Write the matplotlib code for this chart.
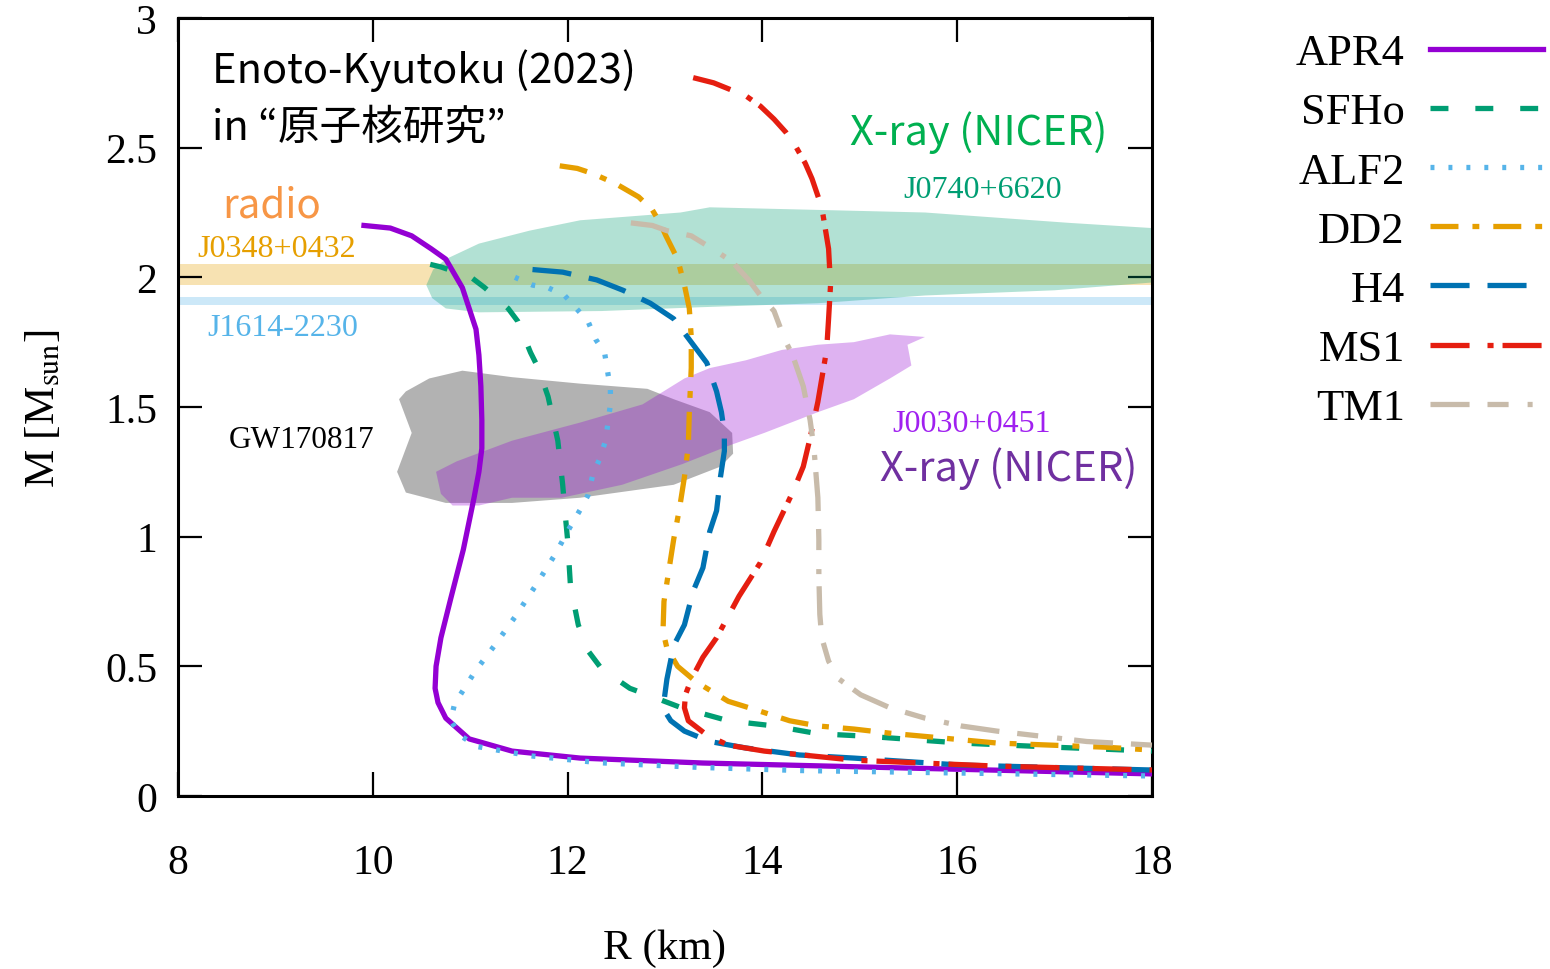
import numpy as np
import matplotlib
matplotlib.use("Agg")
import matplotlib.pyplot as plt

plt.rcParams['font.family'] = ['Liberation Serif', 'DejaVu Serif']
plt.rcParams['mathtext.fontset'] = 'stix'

# mass-radius curves (R in km, M in solar masses)
apr4_R = [9.91, 10.18, 10.40, 10.60, 10.75, 10.92, 11.06, 11.09, 11.11, 11.12, 11.12, 11.09, 11.04, 10.93,
          10.80, 10.70, 10.65, 10.64, 10.67, 10.75, 10.99, 11.43, 12.13, 13.39, 15.45, 18.0]
apr4_M = [2.20, 2.19, 2.16, 2.11, 2.07, 1.96, 1.80, 1.70, 1.58, 1.45, 1.34, 1.25, 1.15, 0.95,
          0.76, 0.61, 0.50, 0.415, 0.36, 0.30, 0.22, 0.173, 0.146, 0.127, 0.108, 0.085]

sfho_R = [10.59, 10.70, 11.01, 11.15, 11.39, 11.49, 11.62, 11.70, 11.80, 11.90, 11.95, 11.98, 12.00, 12.03,
          12.11, 12.21, 12.35, 12.64, 12.82, 13.17, 13.65, 14.12, 14.57, 15.08, 16.04, 17.0, 18.0]
sfho_M = [2.05, 2.04, 2.00, 1.96, 1.88, 1.83, 1.71, 1.65, 1.54, 1.37, 1.20, 1.07, 0.99, 0.81,
          0.66, 0.56, 0.49, 0.415, 0.39, 0.34, 0.29, 0.27, 0.24, 0.23, 0.204, 0.188, 0.173]

alf2_R = [11.46, 11.64, 11.80, 11.97, 12.09, 12.21, 12.29, 12.38, 12.41, 12.44, 12.44, 12.39, 12.33, 12.26,
          12.21, 12.14, 12.03, 11.87, 11.67, 11.46, 11.25, 11.05, 10.84, 10.80, 10.91, 11.08, 11.61, 12.33,
          13.36, 14.39, 16.44, 18.0]
alf2_M = [2.00, 1.97, 1.96, 1.93, 1.88, 1.83, 1.76, 1.71, 1.64, 1.57, 1.51, 1.37, 1.30, 1.24,
          1.16, 1.11, 1.04, 0.93, 0.81, 0.69, 0.58, 0.48, 0.355, 0.29, 0.23, 0.19, 0.155, 0.128,
          0.110, 0.098, 0.086, 0.077]

dd2_R = [11.92, 12.10, 12.26, 12.50, 12.73, 12.87, 12.95, 13.01, 13.13, 13.20, 13.25, 13.27, 13.27, 13.25,
         13.24, 13.20, 13.15, 13.09, 13.04, 12.99, 12.98, 13.02, 13.13, 13.32, 13.65, 13.95, 14.28, 14.57,
         14.94, 15.31, 15.86, 16.41, 16.96, 17.52, 18.0]
dd2_M = [2.43, 2.42, 2.40, 2.36, 2.31, 2.26, 2.21, 2.16, 2.07, 1.97, 1.88, 1.77, 1.65, 1.48,
         1.35, 1.23, 1.11, 0.99, 0.87, 0.75, 0.635, 0.57, 0.50, 0.44, 0.365, 0.33, 0.29, 0.27,
         0.258, 0.242, 0.223, 0.204, 0.196, 0.188, 0.177]

h4_R = [11.64, 11.95, 12.30, 12.57, 12.85, 13.09, 13.27, 13.43, 13.53, 13.58, 13.61, 13.61, 13.57, 13.53,
        13.46, 13.39, 13.29, 13.20, 13.09, 13.02, 12.99, 13.01, 13.06, 13.20, 13.46, 13.83, 14.38, 14.94,
        16.04, 18.0]
h4_M = [2.03, 2.02, 1.99, 1.95, 1.90, 1.84, 1.75, 1.67, 1.56, 1.48, 1.40, 1.33, 1.23, 1.10,
        1.02, 0.88, 0.79, 0.66, 0.58, 0.45, 0.365, 0.32, 0.29, 0.25, 0.21, 0.185, 0.158, 0.146,
        0.119, 0.100]

ms1_R = [13.29, 13.50, 13.83, 13.98, 14.12, 14.24, 14.35, 14.44, 14.51, 14.61, 14.68, 14.70, 14.68, 14.66,
         14.57, 14.49, 14.42, 14.31, 14.12, 13.98, 13.76, 13.53, 13.39, 13.27, 13.21, 13.20, 13.24, 13.43,
         13.65, 14.02, 14.94, 16.41, 18.0]
ms1_M = [2.77, 2.75, 2.70, 2.66, 2.61, 2.56, 2.50, 2.44, 2.38, 2.27, 2.11, 1.97, 1.84, 1.72,
         1.52, 1.38, 1.27, 1.17, 1.02, 0.90, 0.77, 0.61, 0.535, 0.45, 0.39, 0.34, 0.29, 0.235,
         0.196, 0.173, 0.138, 0.115, 0.100]

tm1_R = [12.65, 12.87, 13.02, 13.27, 13.53, 13.69, 13.86, 13.98, 14.12, 14.23, 14.31, 14.42, 14.49, 14.53,
         14.57, 14.58, 14.58, 14.59, 14.61, 14.68, 14.79, 15.01, 15.31, 15.67, 16.04, 16.41, 17.33, 18.0]
tm1_M = [2.21, 2.20, 2.18, 2.16, 2.10, 2.06, 1.99, 1.93, 1.87, 1.76, 1.70, 1.58, 1.45, 1.34,
         1.15, 0.99, 0.85, 0.70, 0.61, 0.52, 0.45, 0.39, 0.34, 0.30, 0.27, 0.25, 0.21, 0.196]

eos_names = ['APR4', 'SFHo', 'ALF2', 'DD2', 'H4', 'MS1', 'TM1']

# observational constraints
j0348_M = [1.97, 2.05]
j1614_M = [1.892, 1.924]

j0740_R = [10.55, 10.62, 10.75, 11.09, 11.61, 12.13, 13.16, 13.46, 14.57, 15.67, 17.15, 18.0,
           18.0, 17.0, 15.67, 14.57, 13.39, 12.35, 11.09, 10.75, 10.61]
j0740_M = [1.97, 2.03, 2.07, 2.13, 2.18, 2.22, 2.25, 2.27, 2.26, 2.25, 2.21, 2.19,
           1.98, 1.95, 1.93, 1.90, 1.885, 1.87, 1.865, 1.88, 1.92]

gw_R = [10.27, 10.40, 10.25, 10.34, 10.75, 11.43, 12.13, 13.09, 13.57, 13.70, 13.69, 13.46, 13.09,
        12.82, 12.13, 11.43, 10.92, 10.58, 10.34]
gw_M = [1.53, 1.40, 1.25, 1.17, 1.13, 1.13, 1.15, 1.20, 1.27, 1.32, 1.40, 1.48, 1.53,
        1.57, 1.59, 1.615, 1.64, 1.61, 1.56]

j0030_R = [10.65, 10.86, 11.43, 12.13, 12.77, 13.20, 13.46, 13.83, 14.20, 14.57, 14.94, 15.31, 15.67,
           15.49, 15.53, 15.31, 14.94, 14.57, 14.02, 13.65, 13.18, 12.56, 11.94, 11.43, 11.09, 10.82, 10.70]
j0030_M = [1.25, 1.29, 1.37, 1.44, 1.51, 1.61, 1.65, 1.68, 1.72, 1.74, 1.75, 1.78, 1.77,
           1.74, 1.66, 1.61, 1.53, 1.48, 1.40, 1.35, 1.28, 1.20, 1.15, 1.15, 1.12, 1.12, 1.165]

fig = plt.figure(figsize=(15.5, 9.7), dpi=100)
ax = fig.add_axes([0.1148, 0.1784, 0.6284, 0.802])

# shaded regions
ax.axhspan(j0348_M[0], j0348_M[1], color='#E69F00', alpha=0.3, lw=0, zorder=1)
ax.axhspan(j1614_M[0], j1614_M[1], color='#56B4E9', alpha=0.3, lw=0, zorder=1)
ax.fill(j0740_R, j0740_M, color='#009E73', alpha=0.3, lw=0, zorder=2)
ax.fill(gw_R, gw_M, color='#808080', alpha=0.6, lw=0, zorder=2)
ax.fill(j0030_R, j0030_M, color='#9400D3', alpha=0.3, lw=0, zorder=3)

lw = 3.8
curves = [
    (apr4_R, apr4_M, '#9400D3', '-'),
    (sfho_R, sfho_M, '#009E73', (0, (3.4, 5.1))),
    (alf2_R, alf2_M, '#56B4E9', (0, (0.75, 2.65))),
    (dd2_R, dd2_M, '#E69F00', (0, (5.3, 2.65, 1.3, 2.65))),
    (h4_R, h4_M, '#0072B2', (0, (7.4, 3.4))),
    (ms1_R, ms1_M, '#E51E10', (0, (7.4, 3.4, 1.15, 1.7))),
    (tm1_R, tm1_M, '#C8BBAA', (0, (7.4, 3.4, 4.0, 3.6, 0.95, 2.3))),
]
for (r, m, c, ls), name in zip(curves, eos_names):
    ax.plot(r, m, color=c, ls=ls, lw=lw, label=name, zorder=5)

ax.set_xlim(8, 18)
ax.set_ylim(0, 3)
ax.set_xticks([8, 10, 12, 14, 16, 18])
ax.set_yticks([0, 0.5, 1, 1.5, 2, 2.5, 3])
ax.set_yticklabels(['0', '0.5', '1', '1.5', '2', '2.5', '3'])
ax.tick_params(direction='in', length=17, width=1.6, top=True, right=True,
               labelsize=30)
ax.tick_params(axis='x', pad=34)
ax.tick_params(axis='y', pad=15)
for s in ax.spines.values():
    s.set_linewidth(2.2)

ax.set_xlabel('R (km)', fontsize=31, labelpad=34)
ax.set_ylabel(r'M [M$_{\rm sun}$]', fontsize=31, labelpad=30)

# annotations
sans = ['Noto Sans CJK JP', 'DejaVu Sans']
ax.text(8.35, 2.80, 'Enoto-Kyutoku (2023)', fontsize=30, family=sans, va='center', ha='left')
ax.text(8.35, 2.58, 'in “原子核研究”', fontsize=30, family=sans, va='center', ha='left')
ax.text(8.45, 2.28, 'radio', fontsize=29, color='#F79646', family=sans, va='center')
ax.text(8.2, 2.11, 'J0348+0432', fontsize=23, color='#E69F00', va='center')
ax.text(8.3, 1.805, 'J1614-2230', fontsize=23, color='#56B4E9', va='center')
ax.text(8.52, 1.375, 'GW170817', fontsize=22.5, color='black', va='center')
ax.text(16.22, 2.56, 'X-ray (NICER)', fontsize=30, color='#00B050', family=sans,
        va='center', ha='center')
ax.text(16.26, 2.34, 'J0740+6620', fontsize=23, color='#009E73', va='center', ha='center')
ax.text(16.15, 1.435, 'J0030+0451', fontsize=23, color='#A020F0', va='center', ha='center')
ax.text(16.53, 1.265, 'X-ray (NICER)', fontsize=30, color='#7030A0', family=sans,
        va='center', ha='center')

fig.legend(loc='upper right', bbox_to_anchor=(1543 / 1550, 1 - 34 / 970), frameon=False,
           fontsize=32, markerfirst=False, handlelength=2.55, handletextpad=0.56,
           labelspacing=0.43, borderpad=0, borderaxespad=0)

fig.savefig('out.png', dpi=100)
